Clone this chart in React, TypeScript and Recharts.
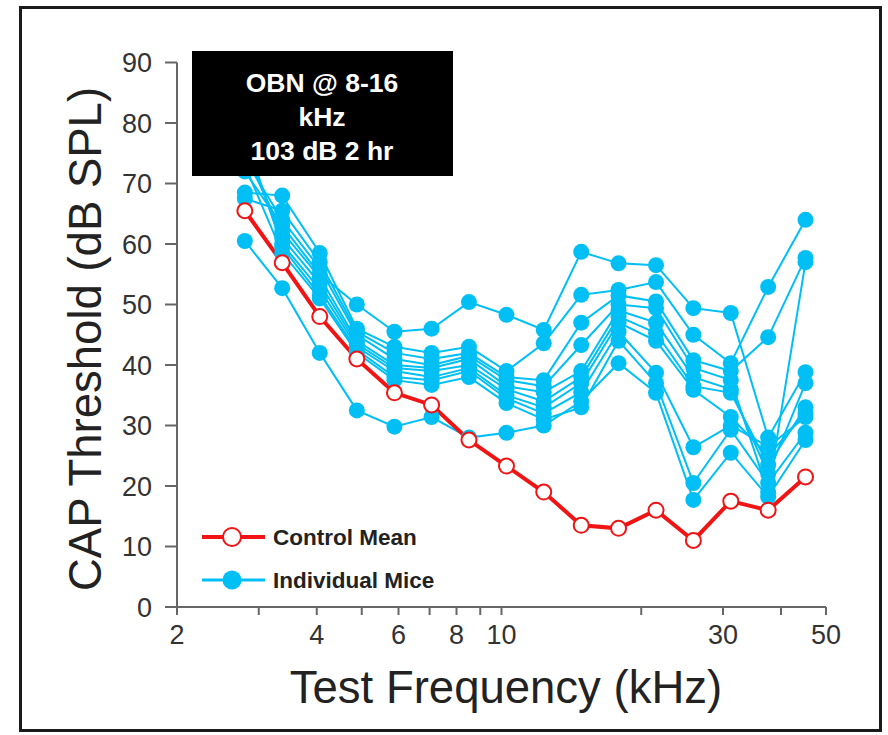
import React from 'react';
import { LineChart, Line, XAxis, YAxis } from 'recharts';

// Test frequencies (kHz)
const freqs = [2.8, 3.37, 4.06, 4.88, 5.88, 7.07, 8.51, 10.25, 12.33, 14.85, 17.87, 21.52, 25.9, 31.18, 37.53, 45.17];

// Control mean thresholds (dB SPL)
const controlMean = [65.5, 56.9, 48, 41, 35.4, 33.4, 27.6, 23.3, 19, 13.5, 13, 16, 11, 17.5, 16, 21.5];

// Individual mice thresholds (dB SPL)
const mouse1 = [60.5, 52.7, 42, 32.5, 29.8, 31.4, 28, 28.8, 30, 34, 40.3, 35.4, 17.7, 25.5, 18.2, 27.6];
const mouse2 = [72, 63, 55, 50, 45.5, 46, 50.4, 48.3, 45.8, 58.7, 56.8, 56.5, 49.4, 48.6, 28, 38.8];
const mouse3 = [68.5, 68, 58.5, 46, 43, 42, 43, 39, 43.6, 51.6, 52.4, 53.7, 45, 40.3, 52.9, 64];
const mouse4 = [67.5, 65.5, 57, 45.5, 42, 41, 42, 38, 37.5, 47, 51.5, 50.5, 40.8, 39, 44.6, 57.7];
const mouse5 = [74, 64, 56, 45, 41, 40, 41.5, 37.5, 36.5, 43.3, 50, 49.4, 39.5, 37.5, 19, 57];
const mouse6 = [75, 62, 54.5, 44, 40, 39.5, 41, 36.5, 35.5, 39, 49, 47, 38, 36, 22, 37];
const mouse7 = [76, 61, 53.5, 43.5, 39.5, 39, 40, 36, 34, 38, 48, 45.3, 36.5, 35.4, 23.5, 33];
const mouse8 = [77, 60, 52.5, 43, 39, 38, 39.5, 35, 33, 37, 47, 44, 35.9, 31.4, 25, 32];
const mouse9 = [78, 59.5, 51.5, 42.5, 38, 37.5, 39, 34.5, 32, 35.5, 45.5, 38.7, 26.4, 30, 26.5, 31.4];
const mouse10 = [73, 58.5, 51, 42, 37.5, 36.7, 38, 33.7, 31, 33, 44, 37, 20.5, 29.3, 20.5, 28.8];

const mice = [mouse1, mouse2, mouse3, mouse4, mouse5, mouse6, mouse7, mouse8, mouse9, mouse10];

// Axis ticks
const xTicks = [2, 3, 4, 5, 6, 7, 8, 9, 10, 20, 30, 40, 50];
const xTickLabels = [2, 4, 6, 8, 10, 30, 50];
const yTicks = [0, 10, 20, 30, 40, 50, 60, 70, 80, 90];

const data = freqs.map((f, i) => {
  const row: Record<string, number> = { freq: f, control: controlMean[i] };
  mice.forEach((m, j) => {
    row['m' + (j + 1)] = m[i];
  });
  return row;
});

const BLUE = '#00BFF5';
const RED = '#F01414';
const FONT = '"Liberation Sans", Arial, Helvetica, sans-serif';

export default function App() {
  return (
    <div style={{ position: 'absolute', left: 0, top: 0, width: 888, height: 735, overflow: 'hidden', background: '#fff' }}>
      <LineChart
        width={888}
        height={735}
        data={data}
        margin={{ top: 62.5, right: 62, bottom: 68, left: 97 }}
      >
        <XAxis
          dataKey="freq"
          type="number"
          scale="log"
          domain={[2, 50]}
          ticks={xTicks}
          allowDataOverflow
          interval={0}
          height={60}
          tickSize={8}
          tickMargin={10}
          stroke="#666"
          strokeWidth={2}
          tick={{ fontFamily: FONT, fontSize: 27, fill: '#333' }}
          tickFormatter={(v: number) => (xTickLabels.includes(v) ? String(v) : '')}
        />
        <YAxis
          type="number"
          domain={[0, 90]}
          ticks={yTicks}
          interval={0}
          width={80}
          tickSize={12}
          tickMargin={13}
          stroke="#666"
          strokeWidth={2}
          tick={{ fontFamily: FONT, fontSize: 27, fill: '#333' }}
        />
        {mice.map((_, j) => (
          <Line
            key={'m' + (j + 1)}
            dataKey={'m' + (j + 1)}
            stroke={BLUE}
            strokeWidth={2}
            dot={{ r: 8, fill: BLUE, stroke: BLUE, strokeWidth: 0 }}
            activeDot={false}
            isAnimationActive={false}
          />
        ))}
        <Line
          dataKey="control"
          stroke={RED}
          strokeWidth={4}
          dot={{ r: 7.5, fill: '#fff', stroke: RED, strokeWidth: 2 }}
          activeDot={false}
          isAnimationActive={false}
        />
      </LineChart>

      <svg
        width={888}
        height={735}
        style={{ position: 'absolute', left: 0, top: 0, pointerEvents: 'none' }}
      >
        {/* outer frame */}
        <rect x={20.5} y={7.5} width={860} height={723} fill="none" stroke="#1a1a1a" strokeWidth={3} />

        {/* annotation box */}
        <rect x={192} y={51} width={261} height={125} fill="#000" />
        <text x={322} y={92} textAnchor="middle" fill="#fff" fontFamily={FONT} fontWeight="bold" fontSize={26.5}>OBN @ 8-16</text>
        <text x={322} y={126} textAnchor="middle" fill="#fff" fontFamily={FONT} fontWeight="bold" fontSize={26.5}>kHz</text>
        <text x={322} y={160} textAnchor="middle" fill="#fff" fontFamily={FONT} fontWeight="bold" fontSize={26.5}>103 dB 2 hr</text>

        {/* legend */}
        <line x1={202} y1={537} x2={265} y2={537} stroke={RED} strokeWidth={4} />
        <circle cx={232} cy={537} r={9} fill="#fff" stroke={RED} strokeWidth={2} />
        <text x={273} y={545} fill="#222" fontFamily={FONT} fontWeight="bold" fontSize={22.5}>Control Mean</text>
        <line x1={202} y1={580} x2={265} y2={580} stroke={BLUE} strokeWidth={3} />
        <circle cx={232} cy={580} r={9.5} fill={BLUE} />
        <text x={273} y={588} fill="#222" fontFamily={FONT} fontWeight="bold" fontSize={22.5}>Individual Mice</text>

        {/* axis titles */}
        <text
          x={0}
          y={0}
          transform="translate(101,339) rotate(-90)"
          textAnchor="middle"
          fill="#222"
          fontFamily={FONT}
          fontSize={45.5}
        >
          CAP Threshold (dB SPL)
        </text>
        <text x={506} y={703} textAnchor="middle" fill="#222" fontFamily={FONT} fontSize={45.5}>
          Test Frequency (kHz)
        </text>
      </svg>
    </div>
  );
}
